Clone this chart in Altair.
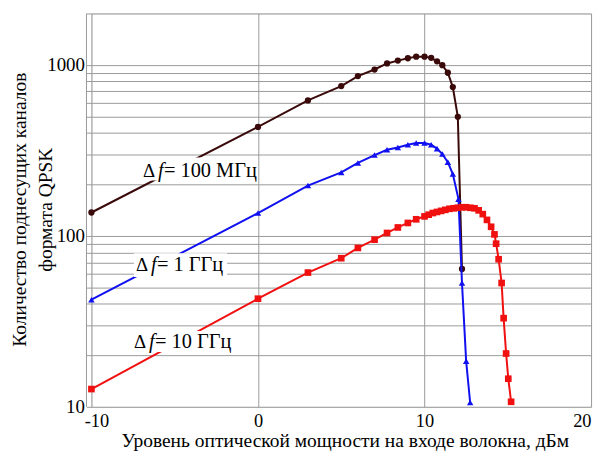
import altair as alt
import pandas as pd

# ---- data ----
x_brown = [-10, 0, 3, 5, 6, 7, 7.75, 8.4, 9, 9.5, 10, 10.4, 10.75, 11.07, 11.4, 11.7, 12.0, 12.25]
y_brown = [137, 434, 620, 752, 860, 940, 1020, 1060, 1094, 1118, 1118, 1100, 1050, 996, 900, 742, 497, 64]

x_blue = [-10, 0, 3, 5, 6, 7, 7.75, 8.4, 9, 9.5, 10, 10.4, 10.75, 11.07, 11.4, 11.7, 12.04, 12.25, 12.5, 12.74]
y_blue = [42.3, 136, 197, 235, 267, 297, 319, 329, 341, 349, 349, 341, 324, 301, 270, 230, 164, 53, 18.5, 10.6]

x_red = [-10, 0, 3, 5, 6, 7, 7.75, 8.4, 9, 9.5, 10, 10.25, 10.5, 10.75, 11.0, 11.25, 11.5, 11.75,
         12.0, 12.25, 12.5, 12.75, 13.0, 13.25, 13.5, 13.75, 14.0, 14.2, 14.3, 14.45, 14.63, 14.75,
         14.9, 15.03, 15.2]
y_red = [12.7, 42.9, 61, 74, 85, 95, 104, 112, 119, 125, 130, 133, 136, 138, 140, 142, 144, 145,
         146, 147, 147, 146, 145, 141, 134, 124, 113, 102, 90, 73, 53, 33, 20.5, 14.6, 10.7]

y_ticks = [10, 20, 30, 40, 50, 60, 70, 80, 90, 100, 200, 300, 400, 500, 600, 700, 800, 900, 1000, 2000]
x_ticks = [-10, 0, 10, 20]

# labels: anchor x (dB), centre y, text
lab_x = [-6.9, -7.32, -7.44]
lab_y = [241, 67.8, 24.0]
lab_rest = ["= 100 МГц", "= 1 ГГц", "= 10 ГГц"]
box_x1 = [-6.95, -7.45, -7.55]
box_x2 = [-0.15, -1.85, -1.5]
box_y1 = [211, 57.5, 20.9]
box_y2 = [287, 79, 27.8]

FONT = "Liberation Serif"
W, H = 503, 396
xs = alt.Scale(domain=[-10, 20], nice=False)
ys = alt.Scale(type="log", domain=[10, 2000], nice=False)

gray = "#9a9a9a"

xaxis = alt.Axis(values=x_ticks, labelExpr="datum.value + ''", grid=True, gridColor=gray,
                 tickSize=0, domain=False, labelFont=FONT, labelFontSize=18.5, labelColor="black",
                 labelPadding=5, labelFlush=False, labelOverlap=False,
                 labelOffset={"condition": {"test": "datum.value == -10", "value": 5},
                              "value": 0},
                 labelAlign={"condition": {"test": "datum.value == 20", "value": "right"},
                             "value": "center"},
                 title="Уровень оптической мощности на входе волокна, дБм",
                 titleFont=FONT, titleFontSize=19.6, titleFontWeight="normal", titleColor="black",
                 titleBaseline="top", titleY=25, titleX=255)
yaxis = alt.Axis(values=y_ticks,
                 labelExpr="(datum.value == 10 || datum.value == 100 || datum.value == 1000) ? datum.value + '' : ''",
                 grid=True, gridColor=gray, tickSize=5, tickColor=gray, domain=False,
                 labelFont=FONT, labelFontSize=19, labelColor="black", labelPadding=2,
                 labelFlush=False, labelOverlap=False,
                 title=["Количество поднесущих каналов", "формата QPSK"],
                 titleFont=FONT, titleFontSize=19.6, titleFontWeight="normal", titleColor="black",
                 titleAngle=270, titleBaseline="alphabetic", titleAlign="center",
                 titleX=-66, titleY=197, titleLineHeight=26)


def series(xv, yv, color, shape, size):
    df = pd.DataFrame({"x": xv, "y": yv})
    base = alt.Chart(df)
    line = base.mark_line(color=color, strokeWidth=2).encode(
        x=alt.X("x:Q", scale=xs, axis=xaxis), y=alt.Y("y:Q", scale=ys, axis=yaxis))
    pts = base.mark_point(color=color, fill=color, filled=True, shape=shape, size=size, opacity=1).encode(
        x=alt.X("x:Q", scale=xs), y=alt.Y("y:Q", scale=ys))
    return line + pts


brown = series(x_brown, y_brown, "#3a0a0a", "circle", 40)
blue = series(x_blue, y_blue, "#1010f0", "triangle-up", 42)
red = series(x_red, y_red, "#f01010", "square", 45)

boxes = alt.Chart(pd.DataFrame({"x1": box_x1, "x2": box_x2, "y1": box_y1, "y2": box_y2})).mark_rect(
    fill="white").encode(x=alt.X("x1:Q", scale=xs), x2="x2:Q", y=alt.Y("y1:Q", scale=ys), y2="y2:Q")

lab_df = pd.DataFrame({"x": lab_x, "y": lab_y, "rest": lab_rest, "d": ["Δ"] * 3, "f": ["f"] * 3})
tbase = alt.Chart(lab_df)
t_delta = tbase.mark_text(font=FONT, fontSize=19, align="left", baseline="middle", color="black").encode(
    x=alt.X("x:Q", scale=xs), y=alt.Y("y:Q", scale=ys), text="d:N")
t_f = tbase.mark_text(font=FONT, fontSize=20.5, fontStyle="italic", align="left", baseline="middle",
                      color="black", dx=15).encode(
    x=alt.X("x:Q", scale=xs), y=alt.Y("y:Q", scale=ys), text="f:N")
t_rest = tbase.mark_text(font=FONT, fontSize=20.5, align="left", baseline="middle", color="black", dx=21).encode(
    x=alt.X("x:Q", scale=xs), y=alt.Y("y:Q", scale=ys), text="rest:N")

edge = alt.Chart(pd.DataFrame({"a": [0]})).mark_rule(color=gray, strokeWidth=1).encode(
    x=alt.value(-5), y=alt.value(0), y2=alt.value(H))

chart = alt.layer(brown, blue, red, boxes, t_delta, t_f, t_rest, edge).properties(
    width=W, height=H,
    autosize=alt.AutoSizeParams(type="none"),
    padding={"left": 84, "top": 4, "right": 8, "bottom": 44},
).configure_view(stroke=gray, strokeWidth=1.5).configure(background="white")

chart.save("out.html", embed_options={"renderer": "svg", "actions": False})
